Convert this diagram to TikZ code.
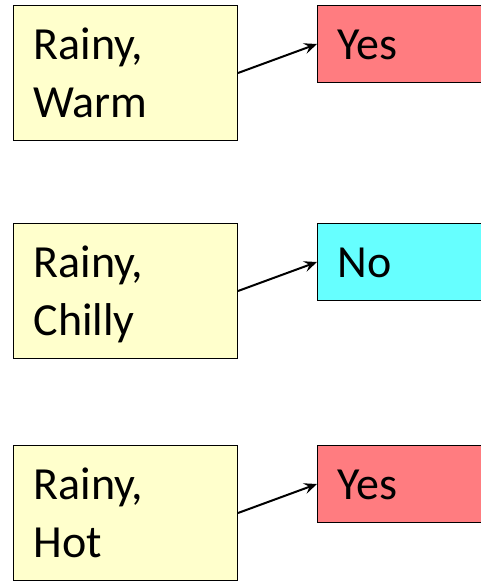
\documentclass[tikz,border=0pt]{standalone}
\usepackage{fontspec}
\setmainfont{Carlito}
\usepackage{xcolor}
\usetikzlibrary{arrows.meta}

\definecolor{condfill}{HTML}{FFFFCC}
\definecolor{yesfill}{HTML}{FF7C80}
\definecolor{nofill}{HTML}{66FFFF}

\begin{document}
\begin{tikzpicture}[x=1pt,y=1pt,
  cond/.style = {draw,line width=1pt,fill=condfill,anchor=north west,
        align=left,text width=184pt,inner xsep=20pt,inner ysep=0pt,
        minimum width=224pt,minimum height=135pt,
        text height=30pt,text depth=58pt},
  leaf/.style = {draw,line width=1pt,anchor=north west,
        align=left,text width=160pt,inner xsep=20pt,inner ysep=0pt,
        minimum width=200pt,minimum height=77pt,
        text height=30pt,text depth=0pt}]
 \clip (0,0) rectangle (481,-581);
 \fontsize{46}{58}\selectfont
 \node[cond] (warm)   at(13,-5)   {Rainy,\\ Warm};
 \node[cond] (chilly) at(13,-223) {Rainy,\\ Chilly};
 \node[cond] (hot)    at(13,-445) {Rainy,\\ Hot};

 \node[leaf,fill=yesfill] (warmy)   at(317,-5)   {Yes};
 \node[leaf,fill=nofill]  (chillyn) at(317,-223) {No};
 \node[leaf,fill=yesfill] (hoty)    at(317,-445) {Yes};

 \begin{scope}[line width=2pt,-{Stealth[length=13pt,width=11pt,inset=5pt]}]
  \draw (warm.east)   -- (warmy.west);
  \draw (chilly.east) -- (chillyn.west);
  \draw (hot.east)    -- (hoty.west);
 \end{scope}
\end{tikzpicture}
\end{document}
